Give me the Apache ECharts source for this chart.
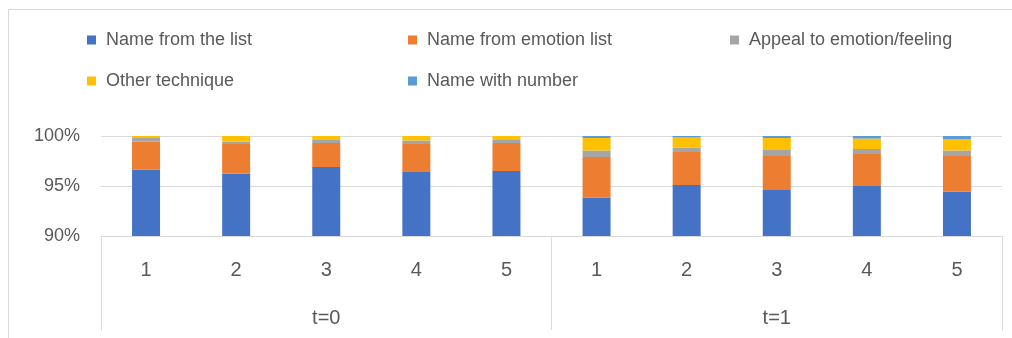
<!DOCTYPE html>
<html>
<head>
<meta charset="utf-8">
<script src="https://cdn.jsdelivr.net/npm/echarts@6/dist/echarts.min.js"></script>
<style>
  html, body { margin: 0; padding: 0; background: #ffffff; }
  #chart { width: 1012px; height: 338px; }
</style>
</head>
<body>
<div id="chart"></div>
<script>
// Inner category labels (1..5 in each period) and outer period labels
const categories = ['1', '2', '3', '4', '5', '1', '2', '3', '4', '5'];
const periods = ['t=0', 't=1'];

// Share of answers per technique, in percent
const nameFromList        = [96.65, 96.25, 96.9, 96.4, 96.5, 93.85, 95.1, 94.6, 95.0, 94.45];
const nameFromEmotionList = [2.8, 2.95, 2.4, 2.8, 2.8, 4.05, 3.3, 3.4, 3.2, 3.55];
const appealToEmotion     = [0.35, 0.25, 0.37, 0.35, 0.3, 0.65, 0.45, 0.6, 0.5, 0.55];
const otherTechnique      = [0.2, 0.55, 0.33, 0.45, 0.4, 1.25, 1.0, 1.2, 1.05, 1.15];
const nameWithNumber      = [0, 0, 0, 0, 0, 0.2, 0.15, 0.2, 0.25, 0.3];

const yTicks = { min: 90, max: 100, step: 5 };

const seriesDefs = [
  { name: 'Name from the list', data: nameFromList, color: '#4472C4' },
  { name: 'Name from emotion list', data: nameFromEmotionList, color: '#ED7D31' },
  { name: 'Appeal to emotion/feeling', data: appealToEmotion, color: '#A5A5A5' },
  { name: 'Other technique', data: otherTechnique, color: '#FFC000' },
  { name: 'Name with number', data: nameWithNumber, color: '#5B9BD5' }
];

const textColor = '#595959';
const lineColor = '#d9d9d9';
const font = '"Liberation Sans", Arial, sans-serif';

// One legend block per entry so the entries sit in fixed columns
const legendSlots = [
  { left: 87, top: 31 },
  { left: 408, top: 31 },
  { left: 730, top: 31 },
  { left: 87, top: 72 },
  { left: 408, top: 72 }
];
const legends = seriesDefs.map((s, i) => ({
  data: [s.name],
  left: legendSlots[i].left,
  top: legendSlots[i].top,
  icon: 'rect',
  itemWidth: 9,
  itemHeight: 9,
  padding: 0,
  selectedMode: false,
  textStyle: { color: textColor, fontSize: 18, fontFamily: font, padding: [0, 0, 0, 5] }
}));

const chart = echarts.init(document.getElementById('chart'), null, { renderer: 'canvas' });

chart.setOption({
  animation: false,
  backgroundColor: '#ffffff',
  color: seriesDefs.map(s => s.color),
  graphic: [{
    type: 'rect',
    shape: { x: 8.5, y: 9.5, width: 1100, height: 400 },
    style: { fill: 'none', stroke: lineColor, lineWidth: 1 },
    silent: true,
    z: -1
  }],
  legend: legends,
  grid: { left: 101, right: 10, top: 136, bottom: 102, containLabel: false },
  xAxis: [
    {
      type: 'category',
      data: categories,
      position: 'bottom',
      offset: 0,
      axisLine: { show: true, lineStyle: { color: lineColor, width: 1 } },
      axisTick: { show: false },
      axisLabel: { color: textColor, fontSize: 20, fontFamily: font, margin: 24, interval: 0 }
    },
    {
      type: 'category',
      data: periods,
      position: 'bottom',
      offset: 0,
      axisLine: { show: false },
      axisTick: { show: true, length: 94, lineStyle: { color: lineColor, width: 1 } },
      axisLabel: { color: textColor, fontSize: 20, fontFamily: font, margin: 72, interval: 0 }
    }
  ],
  yAxis: {
    type: 'value',
    min: yTicks.min,
    max: yTicks.max,
    interval: yTicks.step,
    axisLine: { show: false },
    axisTick: { show: false },
    axisLabel: { color: textColor, fontSize: 18, fontFamily: font, margin: 21, formatter: '{value}%' },
    splitLine: { lineStyle: { color: lineColor, width: 1 } }
  },
  series: seriesDefs.map(s => ({
    name: s.name,
    type: 'bar',
    stack: 'total',
    xAxisIndex: 0,
    barWidth: 28,
    data: s.data,
    itemStyle: { color: s.color }
  }))
});
</script>
</body>
</html>
